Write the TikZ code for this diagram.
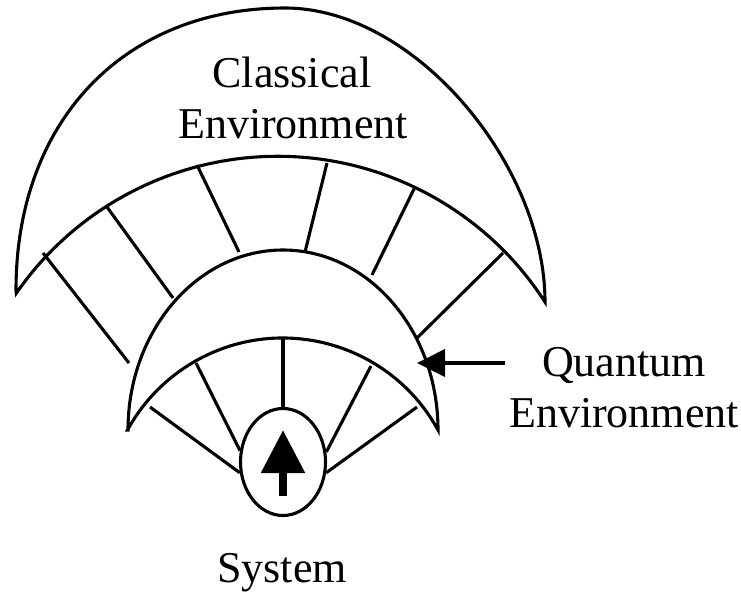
\documentclass[tikz,border=0pt]{standalone}
\usepackage{fontspec}
\setmainfont{Liberation Serif}
\usetikzlibrary{shapes.geometric,arrows.meta}

\begin{document}
\begin{tikzpicture}[x=1pt,y=-1pt,line width=3.1pt,
  lbl/.style={font=\fontsize{44}{51}\selectfont,inner sep=0pt,anchor=base},
  spin/.style={line width=8.5pt,-{Triangle[length=43pt,width=42pt]}},
  pointer/.style={line width=4pt,-{Triangle[length=28pt,width=27pt]}}]
  \useasboundingbox (0,0) rectangle (741,595);
  % classical environment
  \draw (16,290) .. controls (16,121) and (124,8) .. (285,8)
        .. controls (415,8) and (545,165) .. (545,302)
        arc[start angle=-32.8,end angle=-145.3,radius=318] -- cycle;
  \foreach \xa/\ya/\xb/\yb in {43/253/129/363,107/207/173/298,197/165/239/252,
                               327/163/305/252,415/187/372/275,503/253/417/338}
    \draw (\xa,\ya) -- (\xb,\yb);
  % quantum environment
  \draw (128,430) arc[start angle=-180,end angle=0,x radius=155,y radius=180]
        arc[start angle=-28.7,end angle=-151.3,radius=177] -- cycle;
  % system
  \node[draw,ellipse,minimum width=85pt,minimum height=107pt,inner sep=0pt] (sys) at (283,462) {};
  \draw[spin] ([yshift=-34pt]sys.center) -- ([yshift=32pt]sys.center);
  \foreach \px/\py/\ang in {150/407/194,196/363/165,283/339/90,371/366/13,417/407/346}
    \draw (\px,\py) -- (sys.\ang);
  % labels
  \node[lbl] (clab) at (292,87) {Classical};
  \node[lbl] (cenv) at (293,138) {Environment};
  \node[lbl] (qlab) at (624,376) {Quantum};
  \node[lbl] (qenv) at (624,427) {Environment};
  \node[lbl] (slab) at (282,582) {System};
  \coordinate (qtail) at (505,363);
  \coordinate (qtip) at (417,363);
  \draw[pointer] (qtail) -- (qtip);
\end{tikzpicture}
\end{document}
